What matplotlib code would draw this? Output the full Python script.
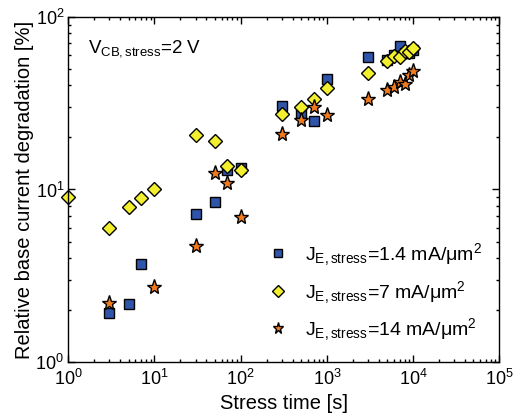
import matplotlib
matplotlib.use('Agg')
import matplotlib.pyplot as plt
from matplotlib.ticker import LogLocator, NullFormatter

plt.rcParams['font.family'] = ['Liberation Sans', 'DejaVu Sans']
plt.rcParams['mathtext.fontset'] = 'custom'
plt.rcParams['mathtext.rm'] = 'Liberation Sans'
plt.rcParams['mathtext.it'] = 'Liberation Sans:italic'

# stress time [s] and degradation [%] per emitter current density
t_sq = [3, 5, 7, 30, 50, 70, 100, 300, 500, 700, 1000, 3000, 5000, 6000, 7000, 8000, 9000, 10000]
d_sq = [1.94, 2.17, 3.72, 7.2, 8.5, 12.9, 13.4, 30.4, 27.6, 24.9, 43.4, 58.7, 56, 60, 67.5, 62, 62, 64]

t_di = [1, 3, 5, 7, 10, 30, 50, 70, 100, 300, 500, 700, 1000, 3000, 5000, 6000, 7000, 8000, 9000, 10000]
d_di = [9.0, 5.96, 7.92, 8.89, 10.0, 20.7, 19.2, 13.6, 12.9, 27.5, 29.9, 33.5, 38.5, 47.2, 55.5, 59.3, 58.5, 63.6, 62.5, 65.5]

t_st = [3, 10, 30, 50, 70, 100, 300, 500, 700, 1000, 3000, 5000, 6000, 7000, 8000, 9000, 10000]
d_st = [2.19, 2.74, 4.69, 12.5, 10.9, 6.96, 20.9, 25.2, 29.9, 27.0, 33.4, 37.7, 39.4, 42.0, 41.0, 46.0, 48.7]

labels = [r'J$_{\mathrm{E,stress}}$=1.4 mA/μm$^2$',
          r'J$_{\mathrm{E,stress}}$=7 mA/μm$^2$',
          r'J$_{\mathrm{E,stress}}$=14 mA/μm$^2$']

fig = plt.figure(figsize=(5.15, 4.16), dpi=100)
ax = fig.add_axes([0.1326, 0.129, 0.8369, 0.831])

ax.plot(t_sq, d_sq, 's', ms=7, mfc='#2f55a8', mec='black', mew=1.0, label=labels[0], clip_on=False)
ax.plot(t_di, d_di, 'D', ms=7.5, mfc='#f2f02e', mec='black', mew=1.0, label=labels[1], clip_on=False)
ax.plot(t_st, d_st, '*', ms=11, mfc='#f07a1e', mec='black', mew=1.0, label=labels[2], clip_on=False)

ax.set_xscale('log')
ax.set_yscale('log')
ax.set_xlim(1, 1e5)
ax.set_ylim(1, 100)
ax.xaxis.set_major_locator(LogLocator(base=10, numticks=10))
ax.xaxis.set_minor_locator(LogLocator(base=10, subs=range(2, 10), numticks=20))
ax.yaxis.set_minor_locator(LogLocator(base=10, subs=range(2, 10), numticks=20))
ax.xaxis.set_minor_formatter(NullFormatter())
ax.yaxis.set_minor_formatter(NullFormatter())

ax.tick_params(which='both', direction='in', top=True, right=True, labelsize=13, width=1.0)
ax.tick_params(which='major', length=5)
ax.tick_params(axis='x', which='major', pad=5)
ax.tick_params(axis='y', which='major', pad=3)
ax.tick_params(which='minor', length=2.5)
for s in ax.spines.values():
    s.set_linewidth(1.0)

ax.set_xlabel('Stress time [s]', fontsize=14.5, labelpad=3)
ax.set_ylabel('Relative base current degradation [%]', fontsize=14.5, labelpad=1)

ax.text(0.045, 0.895, r'V$_{\mathrm{CB,stress}}$=2 V', transform=ax.transAxes, fontsize=13.5)

leg = ax.legend(loc='center left', bbox_to_anchor=(0.459, 0.203), frameon=False, fontsize=14,
                markerscale=0.75, handletextpad=0.8, labelspacing=0.55, borderaxespad=0,
                borderpad=0, handlelength=1.2)

fig.savefig('out.png', dpi=100)
